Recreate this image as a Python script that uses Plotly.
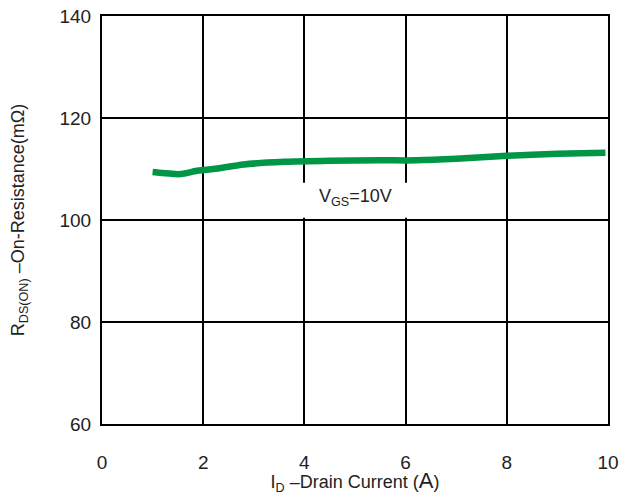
import plotly.graph_objects as go

drain_current = [1.0, 1.55, 1.9, 2.2, 2.8, 3.6, 4.5, 5.5, 6.2, 7.0, 8.0, 9.0, 9.95]
on_resistance = [109.4, 109.0, 109.7, 110.0, 110.9, 111.4, 111.6, 111.7, 111.7, 112.0, 112.6, 113.0, 113.2]
x_ticks = [0, 2, 4, 6, 8, 10]
y_ticks = [60, 80, 100, 120, 140]

fig = go.Figure()
fig.add_trace(go.Scatter(
    x=drain_current, y=on_resistance, mode="lines",
    line=dict(color="#009645", width=6.5, shape="spline", smoothing=0.6),
    showlegend=False, hoverinfo="skip",
))

# white band that interrupts gridlines behind the label
fig.add_shape(type="rect", xref="x", yref="y", x0=3.9, x1=6.1, y0=100.45, y1=107.3,
              fillcolor="white", line=dict(width=0), layer="above")
fig.add_annotation(x=5, y=104.4, xref="x", yref="y", text="V<sub>GS</sub>=10V",
                   showarrow=False, font=dict(size=18, color="#222222"))

font_family = "Liberation Sans, Arial, sans-serif"
fig.update_layout(
    width=619, height=495,
    margin=dict(l=102, r=11, t=16, b=71),
    paper_bgcolor="white", plot_bgcolor="white",
    font=dict(family=font_family, size=18, color="#222222"),
    xaxis=dict(range=[0, 10], tickvals=x_ticks, showgrid=True, gridcolor="black", gridwidth=2,
               showline=True, linecolor="black", linewidth=2, mirror=True, zeroline=False,
               ticks="", ticklabelstandoff=20, tickfont=dict(size=19), automargin=False,
               title=dict(text="I<sub>D</sub> –Drain Current (<span style='font-size:22px'>A</span>)",
                          font=dict(size=18), standoff=4)),
    yaxis=dict(range=[60, 140], tickvals=y_ticks, showgrid=True, gridcolor="black", gridwidth=2,
               showline=True, linecolor="black", linewidth=2, mirror=True, zeroline=False,
               ticks="", ticklabelstandoff=5, tickfont=dict(size=19), automargin=False,
               title=dict(text="R<sub>DS(ON)</sub> –On-Resistance(mΩ)", font=dict(size=18), standoff=30)),
)

fig.write_html("out.html")
